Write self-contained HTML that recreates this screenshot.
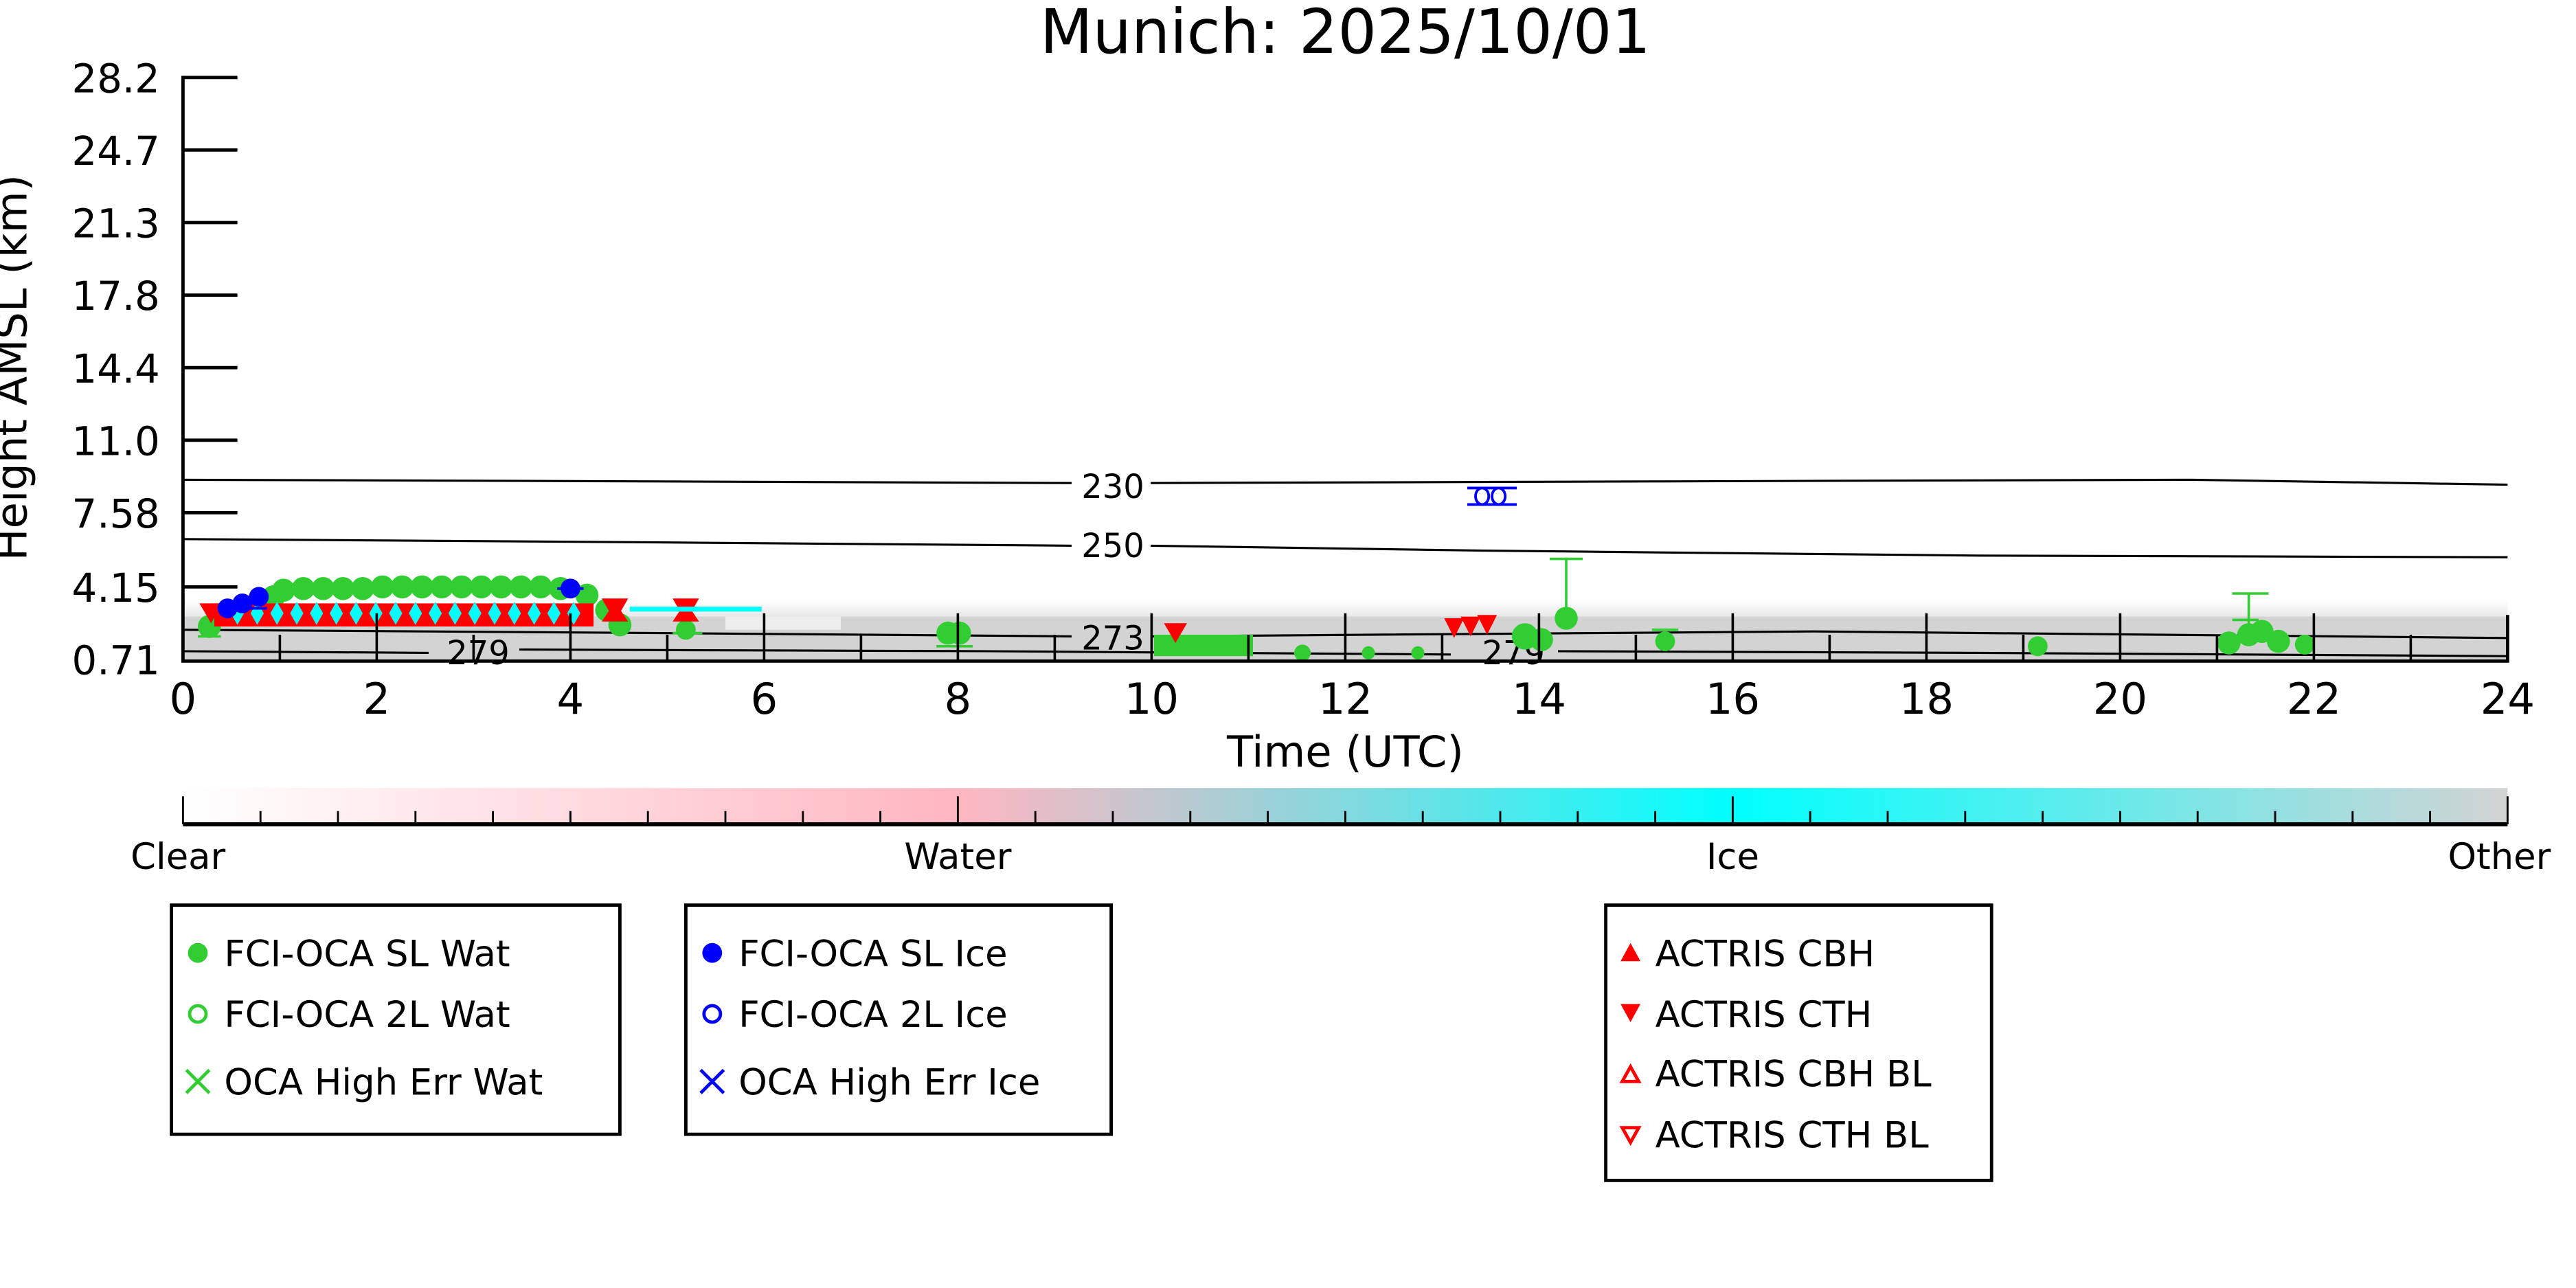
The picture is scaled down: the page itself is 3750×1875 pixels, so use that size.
<!DOCTYPE html>
<html><head><meta charset="utf-8"><style>
html,body{margin:0;padding:0;background:#fff;}
svg{display:block;}
text{font-family:"DejaVu Sans","Liberation Sans",sans-serif;}
</style></head><body>
<svg width="3750" height="1875" viewBox="0 0 1562.5 781.25" xmlns="http://www.w3.org/2000/svg">
<defs>
<linearGradient id="cb" x1="0" x2="1" y1="0" y2="0">
<stop offset="0" stop-color="#ffffff"/>
<stop offset="0.333" stop-color="#ffb6c1"/>
<stop offset="0.43" stop-color="#b9c9d0"/>
<stop offset="0.667" stop-color="#00ffff"/>
<stop offset="1" stop-color="#d3d3d3"/>
</linearGradient>
<linearGradient id="band" x1="0" x2="0" y1="0" y2="1">
<stop offset="0" stop-color="#ffffff"/>
<stop offset="1" stop-color="#e4e4e4"/>
</linearGradient>
</defs>
<rect width="1562.5" height="781.25" fill="#fff"/>
<text x="816" y="32" font-size="37" text-anchor="middle">Munich: 2025/10/01</text>

<rect x="112" y="364" width="1409" height="12" fill="url(#band)"/>
<rect x="112" y="374" width="1409" height="26" fill="#d3d3d3"/>
<rect x="440" y="374" width="70" height="8" fill="#eeeeee"/>

<g stroke="#000" stroke-width="1.3" fill="none">
<polyline points="111,291 400,292 650,293"/>
<polyline points="698,293 1000,292 1330,291 1521,294"/>
<polyline points="111,327 400,329 650,331"/>
<polyline points="698,331 900,334 1200,337 1521,338"/>
<polyline points="111,382 400,384 650,386"/>
<polyline points="698,386 1100,383 1521,387"/>
<polyline points="111,395 260,396"/>
<polyline points="315,394 600,395 880,397"/>
<polyline points="945,395 1200,396 1521,398"/>
</g>
<g font-size="20" text-anchor="middle">
<text x="675" y="302">230</text>
<text x="675" y="338">250</text>
<text x="675" y="394">273</text>
<text x="290" y="403">279</text>
<text x="918" y="403">279</text>
</g>

<g fill="#32cd32">
<rect x="700" y="385" width="60" height="13"/>
<circle cx="127" cy="380" r="7"/><circle cx="376" cy="379" r="7"/><circle cx="416" cy="382" r="6"/>
<circle cx="575" cy="384" r="7"/><circle cx="582" cy="384" r="7"/>
<circle cx="950" cy="375" r="7"/><circle cx="925" cy="386" r="8"/><circle cx="935" cy="388" r="7"/>
<circle cx="1010" cy="389" r="6"/><circle cx="1236" cy="392" r="6"/>
<circle cx="1352" cy="390" r="7"/><circle cx="1364" cy="385" r="7"/><circle cx="1372" cy="383" r="7"/><circle cx="1382" cy="389" r="7"/><circle cx="1398" cy="391" r="6"/>
<circle cx="790" cy="396" r="5"/><circle cx="830" cy="396" r="4"/><circle cx="860" cy="396" r="4"/>
<circle cx="356" cy="361" r="7"/><circle cx="368" cy="370" r="7"/>
</g>
<g stroke="#32cd32" stroke-width="1.5" fill="none">
<path d="M950,375 V339 M940,339 H960 M1364,385 V360 M1354,360 H1376 M1354,376 H1370 M1002,382 H1018 M568,392 H590 M408,384 H426 M120,386 H134"/>
</g>
<g fill="#32cd32">
<circle cx="172" cy="358" r="7"/><circle cx="184" cy="357" r="7"/><circle cx="196" cy="357" r="7"/><circle cx="208" cy="357" r="7"/><circle cx="220" cy="357" r="7"/><circle cx="232" cy="356" r="7"/><circle cx="244" cy="356" r="7"/><circle cx="256" cy="356" r="7"/><circle cx="268" cy="356" r="7"/><circle cx="280" cy="356" r="7"/><circle cx="292" cy="356" r="7"/><circle cx="304" cy="356" r="7"/><circle cx="316" cy="356" r="7"/><circle cx="328" cy="356" r="7"/><circle cx="340" cy="357" r="7"/>
<circle cx="166" cy="362" r="7"/>
</g>
<g fill="#ff0000">
<rect x="130" y="366" width="230" height="14"/>
<path d="M121,366 h14 l-7,12z M365,363 h16 l-8,14z M408,363 h16 l-8,14z M706,378 h14 l-7,12z M876,375 h12 l-6,12z M886,374 h12 l-6,12z M896,373 h12 l-6,12z"/>
<path d="M365,377 h16 l-8,-12z M408,377 h16 l-8,-12z"/>
</g>
<g fill="#00ffff">
<path d="M140,372 l4,-7 4,7 -4,7z M152,372 l4,-7 4,7 -4,7z M164,372 l4,-7 4,7 -4,7z M176,372 l4,-7 4,7 -4,7z M188,372 l4,-7 4,7 -4,7z M200,372 l4,-7 4,7 -4,7z M212,372 l4,-7 4,7 -4,7z M224,372 l4,-7 4,7 -4,7z M236,372 l4,-7 4,7 -4,7z M248,372 l4,-7 4,7 -4,7z M260,372 l4,-7 4,7 -4,7z M272,372 l4,-7 4,7 -4,7z M284,372 l4,-7 4,7 -4,7z M296,372 l4,-7 4,7 -4,7z M308,372 l4,-7 4,7 -4,7z M320,372 l4,-7 4,7 -4,7z M332,372 l4,-7 4,7 -4,7z M344,372 l4,-7 4,7 -4,7z"/>
<rect x="382" y="368" width="80" height="3"/>
</g>
<g fill="#0000ff">
<circle cx="138" cy="369" r="6"/><circle cx="147" cy="366" r="6"/><circle cx="157" cy="362" r="6"/><circle cx="346" cy="357" r="6"/>
</g>
<g stroke="#0000ff" stroke-width="1.6" fill="none">
<path d="M132,369 H162 M338,357 H354"/>
<ellipse cx="899" cy="301" rx="4" ry="5"/><ellipse cx="909" cy="301" rx="4" ry="5"/>
<path d="M890,296 H920 M890,306 H920"/>
</g>

<g stroke="#000" stroke-width="2" fill="none">
<path d="M111,46 V401 H1521 V373"/>
<path d="M111,47 H144 M111,91 H144 M111,135 H144 M111,179 H144 M111,223 H144 M111,267 H144 M111,311 H144 M111,356 H144"/>
</g>
<g stroke="#000" stroke-width="1.5" fill="none">
<path d="M228.5,400 V372 M346,400 V372 M463.5,400 V372 M581,400 V372 M698.5,400 V372 M816,400 V372 M933.5,400 V372 M1051,400 V372 M1168.5,400 V372 M1286,400 V372 M1403.5,400 V372"/>
<path d="M169.75,400 V385 M287.25,400 V385 M404.75,400 V385 M522.25,400 V385 M639.75,400 V385 M757.25,400 V385 M874.75,400 V385 M992.25,400 V385 M1109.75,400 V385 M1227.25,400 V385 M1344.75,400 V385 M1462.25,400 V385"/>
</g>
<g font-size="24" text-anchor="end">
<text x="97" y="56">28.2</text><text x="97" y="100">24.7</text><text x="97" y="144">21.3</text><text x="97" y="188">17.8</text><text x="97" y="232">14.4</text><text x="97" y="276">11.0</text><text x="97" y="320">7.58</text><text x="97" y="365">4.15</text><text x="97" y="409">0.71</text>
</g>
<text transform="translate(16,223) rotate(-90)" font-size="26" text-anchor="middle">Height AMSL (km)</text>
<g font-size="26" text-anchor="middle">
<text x="111" y="433">0</text><text x="228.5" y="433">2</text><text x="346" y="433">4</text><text x="463.5" y="433">6</text><text x="581" y="433">8</text><text x="698.5" y="433">10</text><text x="816" y="433">12</text><text x="933.5" y="433">14</text><text x="1051" y="433">16</text><text x="1168.5" y="433">18</text><text x="1286" y="433">20</text><text x="1403.5" y="433">22</text><text x="1521" y="433">24</text>
<text x="816" y="465">Time (UTC)</text>
</g>

<rect x="111" y="478" width="1410" height="22" fill="url(#cb)"/>
<path d="M111,500 H1521" stroke="#000" stroke-width="2.5"/>
<g stroke="#000" stroke-width="1.2" fill="none">
<path d="M111,500 V483 M581,500 V483 M1051,500 V483 M1521,500 V483"/>
<path d="M158,500 V492 M205,500 V492 M252,500 V492 M299,500 V492 M346,500 V492 M393,500 V492 M440,500 V492 M487,500 V492 M534,500 V492 M628,500 V492 M675,500 V492 M722,500 V492 M769,500 V492 M816,500 V492 M863,500 V492 M910,500 V492 M957,500 V492 M1004,500 V492 M1098,500 V492 M1145,500 V492 M1192,500 V492 M1239,500 V492 M1286,500 V492 M1333,500 V492 M1380,500 V492 M1427,500 V492 M1474,500 V492"/>
</g>
<g font-size="22" text-anchor="middle">
<text x="108" y="527">Clear</text><text x="581" y="527">Water</text><text x="1051" y="527">Ice</text><text x="1516" y="527">Other</text>
</g>

<g fill="none" stroke="#000" stroke-width="2">
<rect x="104" y="549" width="272" height="139"/>
<rect x="416" y="549" width="258" height="139"/>
<rect x="974" y="549" width="234" height="167"/>
</g>
<g font-size="22">
<circle cx="120" cy="578" r="6" fill="#32cd32"/><text x="136" y="586">FCI-OCA SL Wat</text>
<circle cx="120" cy="615" r="5" fill="none" stroke="#32cd32" stroke-width="2"/><text x="136" y="623">FCI-OCA 2L Wat</text>
<path d="M113,649 L127,663 M127,649 L113,663" stroke="#32cd32" stroke-width="2"/><text x="136" y="664">OCA High Err Wat</text>
<circle cx="432" cy="578" r="6" fill="#0000ff"/><text x="448" y="586">FCI-OCA SL Ice</text>
<circle cx="432" cy="615" r="5" fill="none" stroke="#0000ff" stroke-width="2"/><text x="448" y="623">FCI-OCA 2L Ice</text>
<path d="M425,649 L439,663 M439,649 L425,663" stroke="#0000ff" stroke-width="2"/><text x="448" y="664">OCA High Err Ice</text>
<path d="M983,583 l6,-11 6,11z" fill="#ff0000"/><text x="1004" y="586">ACTRIS CBH</text>
<path d="M983,609 h12 l-6,11z" fill="#ff0000"/><text x="1004" y="623">ACTRIS CTH</text>
<path d="M984,656 l5,-9 5,9z" fill="none" stroke="#ff0000" stroke-width="2"/><text x="1004" y="659">ACTRIS CBH BL</text>
<path d="M984,684 h10 l-5,9z" fill="none" stroke="#ff0000" stroke-width="2"/><text x="1004" y="696">ACTRIS CTH BL</text>
</g>
</svg>
</body></html>
